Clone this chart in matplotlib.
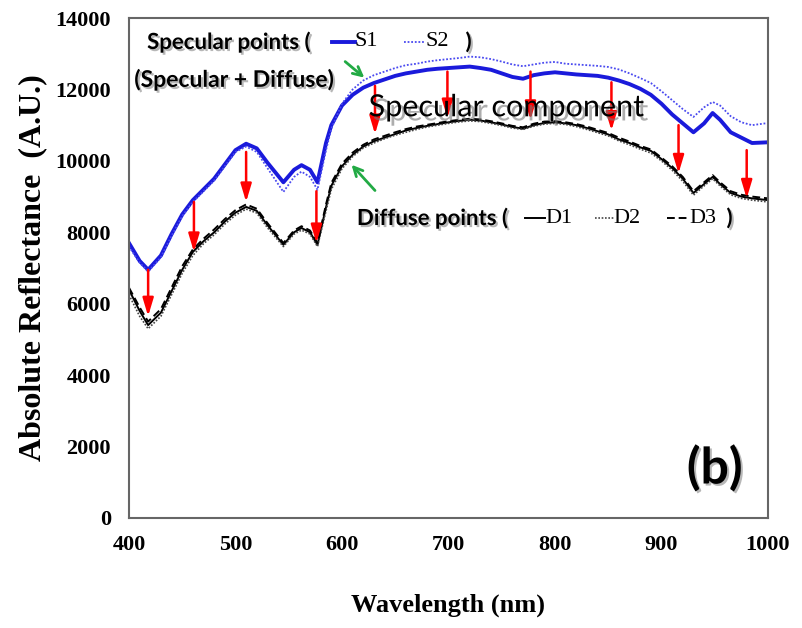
import matplotlib
matplotlib.use("Agg")
import matplotlib.pyplot as plt
import matplotlib.patheffects as pe

# wavelength grid (nm), denser around the dips
wl = [400, 410, 418, 430, 440, 450, 460, 470, 480, 490, 500, 510, 520, 530, 545, 555, 562, 570, 577, 585,
      590, 600, 610, 620, 630, 640, 650, 660, 670, 680, 690, 700, 710, 720, 730, 740, 750, 760, 770, 780,
      790, 800, 810, 820, 830, 840, 850, 860, 870, 880, 890, 900, 910, 920, 930, 940, 948, 955, 965, 975,
      985, 1000]

s1 = [7700, 7200, 6950, 7350, 7950, 8500, 8900, 9200, 9500, 9900, 10300, 10480, 10350, 9950, 9400, 9750, 9880, 9750, 9400, 10500,
      11000, 11550, 11850, 12050, 12180, 12280, 12380, 12450, 12500, 12550, 12580, 12600, 12620, 12640, 12600, 12550, 12450, 12350, 12300, 12400,
      12450, 12480, 12450, 12420, 12400, 12380, 12330, 12250, 12150, 12020, 11850, 11600, 11300, 11050, 10800, 11050, 11340, 11150, 10800, 10650,
      10500, 10520]

s2 = [7600, 7150, 6900, 7300, 7900, 8450, 8850, 9150, 9450, 9850, 10250, 10400, 10250, 9800, 9130, 9550, 9700, 9550, 9190, 10300,
      10900, 11600, 12000, 12250, 12400, 12500, 12600, 12680, 12720, 12780, 12820, 12850, 12880, 12920, 12900, 12850, 12780, 12700, 12650, 12700,
      12750, 12770, 12720, 12700, 12680, 12660, 12630, 12560, 12450, 12320, 12180, 11950, 11700, 11450, 11230, 11500, 11650, 11550, 11250, 11080,
      11000, 11060]

d1 = [6390, 5800, 5400, 5750, 6350, 6950, 7450, 7750, 8000, 8300, 8550, 8710, 8600, 8200, 7650, 8000, 8120, 8000, 7650, 8700,
      9300, 9850, 10170, 10400, 10550, 10650, 10750, 10850, 10920, 10980, 11030, 11080, 11120, 11150, 11130, 11080, 11020, 10950, 10900, 11000,
      11060, 11080, 11050, 11000, 10920, 10830, 10740, 10600, 10500, 10380, 10280, 10050, 9800, 9500, 9100, 9350, 9550, 9350, 9100, 9000,
      8950, 8900]

d2 = [6250, 5650, 5300, 5650, 6250, 6850, 7350, 7680, 7930, 8230, 8480, 8650, 8540, 8130, 7600, 7950, 8060, 7950, 7600, 8600,
      9200, 9780, 10120, 10360, 10500, 10620, 10720, 10800, 10880, 10950, 11000, 11050, 11090, 11120, 11100, 11050, 10990, 10920, 10880, 10970,
      11030, 11050, 11020, 10960, 10880, 10790, 10700, 10560, 10450, 10330, 10220, 10000, 9740, 9430, 9040, 9300, 9500, 9300, 9050, 8950,
      8900, 8850]

d3 = [6450, 5900, 5500, 5850, 6450, 7050, 7520, 7820, 8080, 8370, 8620, 8780, 8660, 8260, 7700, 8050, 8170, 8050, 7700, 8780,
      9380, 9920, 10230, 10450, 10600, 10700, 10800, 10890, 10960, 11010, 11060, 11110, 11150, 11180, 11160, 11110, 11050, 10980, 10940, 11040,
      11100, 11110, 11080, 11030, 10960, 10870, 10780, 10650, 10540, 10420, 10320, 10090, 9850, 9550, 9150, 9400, 9600, 9400, 9150, 9050,
      9000, 8950]

# red arrows: specular component (from S1 down to diffuse curves)
arrow_x = [418, 461, 510, 576, 631, 699, 777, 853, 916, 980]
arrow_top = [6950, 8850, 10250, 9150, 12100, 12500, 12500, 12200, 11000, 10300]
arrow_bottom = [5650, 7450, 8850, 7700, 10750, 11200, 11150, 10850, 9650, 8950]

serif = "Liberation Serif"
sans = "Lato"
shadow = [pe.withSimplePatchShadow(offset=(1.5, -1.5), shadow_rgbFace="#888888", alpha=0.6)]

fig = plt.figure(figsize=(8.02, 6.28), dpi=100)
ax = fig.add_axes([0.1608, 0.1752, 0.7968, 0.7961])

ax.plot(wl, s1, color="#1a1adb", lw=2.8)
ax.plot(wl, s2, color="#4a4af0", lw=1.3, ls=(0, (1, 1)))
ax.plot(wl, d1, color="black", lw=1.4)
ax.plot(wl, d2, color="#444444", lw=1.2, ls=(0, (1, 1)))
ax.plot(wl, d3, color="black", lw=1.4, ls=(0, (4, 2)))

for x, top, bot in zip(arrow_x, arrow_top, arrow_bottom):
    ax.annotate("", xy=(x, bot), xytext=(x, top),
                arrowprops=dict(arrowstyle="-|>,head_length=0.6,head_width=0.18", color="red", lw=1.8,
                                mutation_scale=18, shrinkA=0, shrinkB=0))

# green pointers
ax.annotate("", xy=(621, 12330), xytext=(603, 12780),
            arrowprops=dict(arrowstyle="->", color="#22aa44", lw=2, mutation_scale=16, shrinkA=0, shrinkB=0))
ax.annotate("", xy=(609, 9890), xytext=(631, 9170),
            arrowprops=dict(arrowstyle="->", color="#22aa44", lw=2, mutation_scale=16, shrinkA=0, shrinkB=0))

# inline legend, specular
ax.text(417, 13330, "Specular points (", fontsize=16, fontweight="bold", family=sans,
        va="center", ha="left", path_effects=shadow)
ax.plot([591, 612], [13330, 13330], color="#1a1adb", lw=2.8)
ax.text(612, 13330, "S1", fontsize=16, family=serif, va="center", ha="left")
ax.plot([658, 678], [13330, 13330], color="#4a4af0", lw=1.3, ls=(0, (1, 1)))
ax.text(678, 13330, "S2", fontsize=16, family=serif, va="center", ha="left")
ax.text(716, 13330, ")", fontsize=16, fontweight="bold", family=sans, va="center", ha="left",
        path_effects=shadow)
ax.text(405, 12270, "(Specular + Diffuse)", fontsize=16.5, fontweight="bold", family=sans,
        va="center", ha="left", path_effects=shadow)

# inline legend, diffuse
ax.text(614, 8400, "Diffuse points (", fontsize=16, fontweight="bold", family=sans,
        va="center", ha="left", path_effects=shadow)
ax.plot([772, 791], [8400, 8400], color="black", lw=1.4)
ax.text(791, 8400, "D1", fontsize=16, family=serif, va="center", ha="left")
ax.plot([838, 855], [8400, 8400], color="#444444", lw=1.2, ls=(0, (1, 1)))
ax.text(855, 8400, "D2", fontsize=16, family=serif, va="center", ha="left")
ax.plot([905, 926], [8400, 8400], color="black", lw=1.4, ls=(0, (4, 2)))
ax.text(926, 8400, "D3", fontsize=16, family=serif, va="center", ha="left")
ax.text(961, 8400, ")", fontsize=16, fontweight="bold", family=sans, va="center", ha="left",
        path_effects=shadow)

ax.text(754, 11500, "Specular component", fontsize=22, family=sans, va="center", ha="center",
        path_effects=[pe.withSimplePatchShadow(offset=(3, -3), shadow_rgbFace="#777777", alpha=0.6)])
ax.text(950, 1400, "(b)", fontsize=36, fontweight="bold", family=sans, va="center", ha="center",
        path_effects=shadow)

ax.set_xlim(400, 1000)
ax.set_ylim(0, 14000)
ax.set_xticks(range(400, 1001, 100))
ax.set_yticks(range(0, 14001, 2000))
ax.tick_params(length=0, labelsize=16)
ax.tick_params(axis="x", pad=12)
ax.tick_params(axis="y", pad=13)
for lab in ax.get_xticklabels() + ax.get_yticklabels():
    lab.set_fontfamily(serif)
    lab.set_fontweight("bold")
for sp in ax.spines.values():
    sp.set_color("#666666")
    sp.set_linewidth(1.5)

ax.set_xlabel("Wavelength (nm)", fontsize=19, fontweight="bold", family=serif, labelpad=28)
ax.set_ylabel("Absolute Reflectance  (A.U.)", fontsize=23, fontweight="bold", family=serif, labelpad=6)

fig.savefig("out.png", dpi=100)
